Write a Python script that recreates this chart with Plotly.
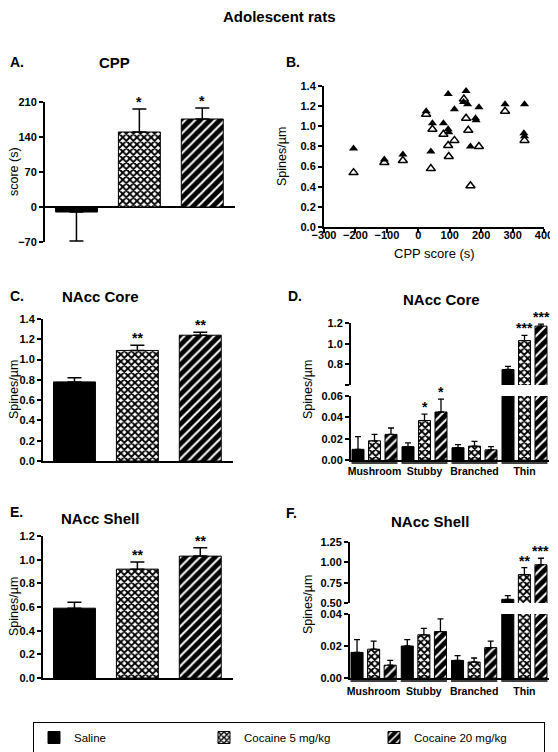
import plotly.graph_objects as go

# ---------------- data ----------------
groups = ["Saline", "Cocaine 5 mg/kg", "Cocaine 20 mg/kg"]

cpp_mean = [-10, 150, 176]
cpp_sem_up = [0, 46, 22]
cpp_sem_down = [58, 0, 0]
cpp_sig = ["", "*", "*"]

core_cpp_x = [-206, -108, -49, 25, 45, 40, 80, 95, 95, 97, 115, 152, 144, 157, 166, 193, 182, 184, 276, 338, 336, 338]
core_spines_y = [0.78, 0.67, 0.72, 1.15, 1.03, 0.75, 1.03, 1.32, 0.97, 0.94, 1.17, 1.35, 1.24, 1.22, 0.80, 1.19, 1.08, 1.06, 1.22, 1.22, 0.93, 0.90]
shell_cpp_x = [-206, -108, -49, 25, 45, 40, 80, 95, 97, 115, 145, 152, 159, 166, 193, 276, 338]
shell_spines_y = [0.54, 0.64, 0.66, 1.12, 0.97, 0.58, 0.92, 0.81, 0.70, 0.86, 1.27, 1.08, 0.96, 0.41, 0.80, 1.15, 0.86]

core_total_mean = [0.78, 1.09, 1.24]
core_total_sem = [0.04, 0.05, 0.03]
core_total_sig = ["", "**", "**"]

shell_total_mean = [0.59, 0.92, 1.03]
shell_total_sem = [0.05, 0.06, 0.07]
shell_total_sig = ["", "**", "**"]

spine_types = ["Mushroom", "Stubby", "Branched", "Thin"]

core_type_mean = [
    [0.010, 0.0125, 0.0115, 0.75],   # Saline
    [0.018, 0.037, 0.013, 1.03],     # Cocaine 5
    [0.024, 0.045, 0.0095, 1.17],    # Cocaine 20
]
core_type_sem = [
    [0.012, 0.0035, 0.003, 0.03],
    [0.006, 0.006, 0.0045, 0.05],
    [0.006, 0.012, 0.003, 0.02],
]
core_type_sig = [
    ["", "", "", ""],
    ["", "*", "", "***"],
    ["", "*", "", "***"],
]

shell_type_mean = [
    [0.016, 0.020, 0.011, 0.545],
    [0.018, 0.027, 0.010, 0.85],
    [0.008, 0.029, 0.019, 0.97],
]
shell_type_sem = [
    [0.008, 0.004, 0.003, 0.045],
    [0.005, 0.004, 0.0025, 0.085],
    [0.003, 0.008, 0.004, 0.08],
]
shell_type_sig = [
    ["", "", "", ""],
    ["", "", "", "**"],
    ["", "", "", "***"],
]

# ---------------- helpers ----------------
# The page body has an 8px margin, so the figure is drawn 8px in from the
# window's top-left corner; positions below are given in window pixels.
PAGE_OFF = 8
WIN_W, WIN_H = 558, 752
W, H = WIN_W - PAGE_OFF, WIN_H - PAGE_OFF
FONT = "Liberation Sans"


def fx(p):
    return (p - PAGE_OFF) / W


def fy(p):
    return 1 - (p - PAGE_OFF) / H


def ydom(top, bottom):
    return [fy(bottom), fy(top)]


def marker_style(i):
    if i == 0:
        return dict(color="black", line=dict(color="black", width=1))
    if i == 1:
        return dict(color="white", line=dict(color="black", width=1),
                    pattern=dict(shape="x", fgcolor="black", bgcolor="white",
                                 size=5, solidity=0.6, fillmode="replace"))
    return dict(color="black", line=dict(color="black", width=1),
                pattern=dict(shape="/", fgcolor="white", bgcolor="black",
                             size=7, solidity=0.28, fillmode="replace"))


fig = go.Figure()
annotations = []
shapes = []


def star(xref, yref, x, y, text, size=14):
    annotations.append(dict(xref=xref, yref=yref, x=x, y=y, text=text,
                            showarrow=False, yanchor="bottom", yshift=-3,
                            font=dict(family=FONT, size=size, color="black", weight="bold")))


# ---- Panel A, C, E: simple 3-bar panels ----
def simple_panel(ax, means, up, down, sig, capw=7, showlegend=False):
    xa = "x" + ("" if ax == 1 else str(ax))
    ya = "y" + ("" if ax == 1 else str(ax))
    for i, g in enumerate(groups):
        fig.add_trace(go.Bar(
            x=[g], y=[means[i]], name=g, legendgroup=g, showlegend=showlegend,
            offset=-1/3, width=2/3, marker=marker_style(i),
            error_y=dict(type="data", symmetric=False, array=[up[i]], arrayminus=[down[i]],
                         color="black", thickness=1.5, width=capw),
            xaxis=xa, yaxis=ya))
        if sig[i]:
            star(xa, ya, i, means[i] + up[i], sig[i])


simple_panel(1, cpp_mean, cpp_sem_up, cpp_sem_down, cpp_sig, showlegend=True)
simple_panel(3, core_total_mean, core_total_sem, [0, 0, 0], core_total_sig)
simple_panel(6, shell_total_mean, shell_total_sem, [0, 0, 0], shell_total_sig)

# ---- Panel B: scatter ----
fig.add_trace(go.Scatter(x=core_cpp_x, y=core_spines_y, mode="markers", name="Core",
                         showlegend=False, xaxis="x2", yaxis="y2",
                         marker=dict(symbol="triangle-up", size=8, color="black")))
fig.add_trace(go.Scatter(x=shell_cpp_x, y=shell_spines_y, mode="markers", name="Shell",
                         showlegend=False, xaxis="x2", yaxis="y2",
                         marker=dict(symbol="triangle-up-open", size=8, color="black",
                                     line=dict(width=1.5, color="black"))))

# ---- Panel D, F: broken-axis grouped bars ----
offsets = [-0.45, -0.12, 0.21]
bw = 0.24


def type_panel(ax_low, ax_up, means, sems, sigs):
    for i, g in enumerate(groups):
        for ax in (ax_low, ax_up):
            fig.add_trace(go.Bar(
                x=spine_types, y=means[i], name=g, legendgroup=g, showlegend=False,
                offset=offsets[i], width=bw, marker=marker_style(i),
                error_y=dict(type="data", symmetric=False, array=sems[i],
                             arrayminus=[0] * len(sems[i]),
                             color="black", thickness=1.3, width=3),
                xaxis="x" + str(ax), yaxis="y" + str(ax)))
        for j, s in enumerate(sigs[i]):
            if s:
                ax = ax_up if spine_types[j] == "Thin" else ax_low
                star("x" + str(ax), "y" + str(ax), j + offsets[i] + bw / 2,
                     means[i][j] + sems[i][j], s)


type_panel(4, 5, core_type_mean, core_type_sem, core_type_sig)
type_panel(7, 8, shell_type_mean, shell_type_sem, shell_type_sig)

# group underlines for D and F
for xa, ypix in (("x4", 463), ("x7", 681)):
    for j in range(len(spine_types)):
        shapes.append(dict(type="line", xref=xa, yref="paper", x0=j - 0.46, x1=j + 0.46,
                           y0=fy(ypix), y1=fy(ypix), line=dict(color="black", width=1.5)))

# ---------------- axes ----------------
tickfont = dict(family=FONT, size=11, color="black", weight="bold")
ybase = dict(showline=True, linecolor="black", linewidth=2, ticks="outside", ticklen=4,
             tickwidth=2, tickcolor="black", showgrid=False, zeroline=False,
             tickfont=tickfont, fixedrange=True, automargin=False)
xcat_hidden = dict(showline=False, showticklabels=False, ticks="", showgrid=False,
                   zeroline=False, range=[-0.5, 2.52], fixedrange=True, automargin=False)
catfont = dict(family=FONT, size=10.5, color="black", weight="bold")

layout = dict(
    width=W, height=H, autosize=False,
    margin=dict(l=0, r=0, t=0, b=0, pad=0, autoexpand=False),
    plot_bgcolor="white", paper_bgcolor="white",
    barmode="group",
    showlegend=True,
    font=dict(family=FONT, color="black"),
)

# A
layout["xaxis"] = dict(xcat_hidden, domain=[fx(45), fx(235)], anchor="y")
layout["yaxis"] = dict(ybase, domain=ydom(102, 242), range=[-70, 210], dtick=70,
                       zeroline=True, zerolinecolor="black", zerolinewidth=2, anchor="x")
# B
layout["xaxis2"] = dict(ybase, domain=[fx(324), fx(544)], range=[-300, 400], dtick=100,
                        anchor="y2", ticklabelstandoff=-7)
layout["yaxis2"] = dict(ybase, domain=ydom(86, 227), range=[0, 1.4], dtick=0.2,
                        tickformat=".1f", anchor="x2")
# C
layout["xaxis3"] = dict(xcat_hidden, domain=[fx(43), fx(233)], anchor="y3", showline=True,
                        linecolor="black", linewidth=2)
layout["yaxis3"] = dict(ybase, domain=ydom(319, 461), range=[0, 1.4], dtick=0.2,
                        tickformat=".1f", anchor="x3")
# D lower / upper
dx = [fx(351), fx(549)]
layout["xaxis4"] = dict(domain=dx, range=[-0.47, 3.49], anchor="y4", type="category",
                        categoryorder="array", categoryarray=spine_types,
                        showline=True, linecolor="black", linewidth=2, ticks="",
                        showgrid=False, zeroline=False, tickfont=catfont, tickangle=0,
                        ticklabelstandoff=0, fixedrange=True, automargin=False)
layout["yaxis4"] = dict(ybase, domain=ydom(396, 460), range=[0, 0.06],
                        tickvals=[0, 0.02, 0.04, 0.06], tickformat=".2f", anchor="x4")
layout["xaxis5"] = dict(domain=dx, range=[-0.47, 3.49], anchor="y5", matches="x4",
                        type="category", visible=False, showgrid=False, fixedrange=True,
                        automargin=False)
layout["yaxis5"] = dict(ybase, domain=ydom(323, 385), range=[0.6, 1.2],
                        tickvals=[0.6, 0.8, 1.0, 1.2], ticktext=["", "0.8", "1.0", "1.2"],
                        anchor="x5")
# E
layout["xaxis6"] = dict(xcat_hidden, domain=[fx(43), fx(233)], anchor="y6", showline=True,
                        linecolor="black", linewidth=2)
layout["yaxis6"] = dict(ybase, domain=ydom(536, 678), range=[0, 1.2], dtick=0.2,
                        tickformat=".1f", anchor="x6")
# F lower / upper
fxd = [fx(350), fx(549)]
layout["xaxis7"] = dict(domain=fxd, range=[-0.47, 3.49], anchor="y7", type="category",
                        categoryorder="array", categoryarray=spine_types,
                        showline=True, linecolor="black", linewidth=2, ticks="",
                        showgrid=False, zeroline=False, tickfont=catfont, tickangle=0,
                        ticklabelstandoff=2, fixedrange=True, automargin=False)
layout["yaxis7"] = dict(ybase, domain=ydom(614, 678), range=[0, 0.04],
                        tickvals=[0, 0.02, 0.04], tickformat=".2f", anchor="x7")
layout["xaxis8"] = dict(domain=fxd, range=[-0.47, 3.49], anchor="y8", matches="x7",
                        type="category", visible=False, showgrid=False, fixedrange=True,
                        automargin=False)
layout["yaxis8"] = dict(ybase, domain=ydom(542, 603), range=[0.5, 1.25],
                        tickvals=[0.5, 0.75, 1.0, 1.25], tickformat=".2f", anchor="x8")

# ---------------- texts ----------------
def txt(x, y, text, size, bold=True, angle=0, xanchor="center"):
    annotations.append(dict(xref="paper", yref="paper", x=fx(x), y=fy(y), text=text,
                            showarrow=False, textangle=angle, xanchor=xanchor, yanchor="middle",
                            font=dict(family=FONT, size=size, color="black",
                                      weight="bold" if bold else "normal")))


txt(279, 17, "Adolescent rats", 15)
txt(8, 62, "A.", 14, xanchor="left")
txt(114, 62, "CPP", 15)
txt(284, 62, "B.", 14, xanchor="left")
txt(8, 296, "C.", 14, xanchor="left")
txt(100, 296, "NAcc Core", 15)
txt(286, 296, "D.", 14, xanchor="left")
txt(441, 299, "NAcc Core", 15)
txt(8, 512, "E.", 14, xanchor="left")
txt(100, 519, "NAcc Shell", 15)
txt(284, 513, "F.", 14, xanchor="left")
txt(430, 521, "NAcc Shell", 15)

txt(14, 172, "score (s)", 12.5, bold=False, angle=-90)
txt(282, 157, "Spines/µm", 12.5, bold=False, angle=-90)
txt(434, 253, "CPP score (s)", 13, bold=False)
txt(14, 390, "Spines/µm", 12.5, bold=False, angle=-90)
txt(308, 390, "Spines/µm", 12.5, bold=False, angle=-90)
txt(14, 607, "Spines/µm", 12.5, bold=False, angle=-90)
txt(308, 605, "Spines/µm", 12.5, bold=False, angle=-90)

layout["annotations"] = annotations
layout["shapes"] = shapes
layout["legend"] = dict(orientation="h", x=fx(33), y=fy(722), xanchor="left", yanchor="top",
                        bordercolor="black", borderwidth=1, bgcolor="white",
                        font=dict(family=FONT, size=11.5, color="black"),
                        entrywidth=125, entrywidthmode="pixels", itemwidth=30,
                        traceorder="normal")

fig.update_layout(**layout)
fig.write_html("out.html")
